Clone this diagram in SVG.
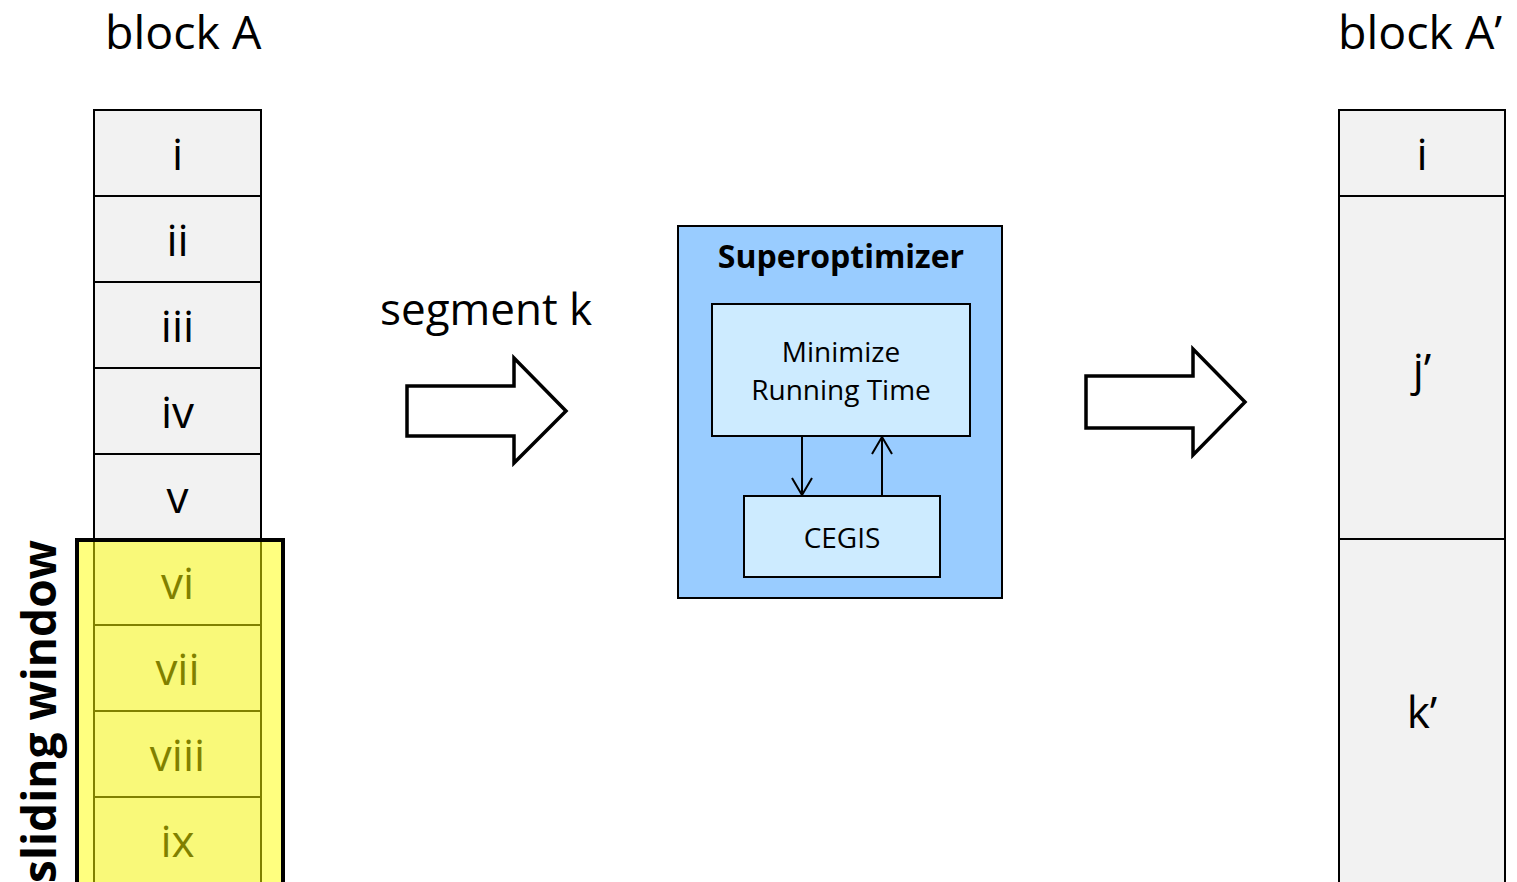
<svg xmlns="http://www.w3.org/2000/svg" width="1517" height="882" viewBox="0 0 1517 882">
  <style>
    text { font-family: "Open Sans", "Noto Sans", sans-serif; fill: #000; }
    .cell { fill: #f2f2f2; stroke: #000; stroke-width: 2; }
    .lbl { font-size: 44px; text-anchor: middle; }
    .title { font-size: 46.5px; }
    .big { fill: #ffffff; stroke: #000; stroke-width: 3.5; stroke-linejoin: miter; }
    .inner { fill: #cdebff; stroke: #000; stroke-width: 2; }
    .small { font-size: 28px; text-anchor: middle; }
    .conn { stroke: #000; stroke-width: 2; fill: none; }
  </style>
  <defs>
    <marker id="vhead" markerWidth="22" markerHeight="22" refX="18" refY="11" orient="auto" markerUnits="userSpaceOnUse">
      <path d="M1,1 L18,11 L1,21" fill="none" stroke="#000" stroke-width="2"/>
    </marker>
  </defs>

  <rect width="1517" height="882" fill="#ffffff"/>

  <!-- block A -->
  <g id="blockA">
    <text class="title" x="105" y="49">block A</text>
    <rect class="cell" x="94" y="110" width="167" height="86"/>
    <text class="lbl" x="177.5" y="170">i</text>
    <rect class="cell" x="94" y="196" width="167" height="86"/>
    <text class="lbl" x="177.5" y="256">ii</text>
    <rect class="cell" x="94" y="282" width="167" height="86"/>
    <text class="lbl" x="177.5" y="342">iii</text>
    <rect class="cell" x="94" y="368" width="167" height="86"/>
    <text class="lbl" x="177.5" y="428">iv</text>
    <rect class="cell" x="94" y="454" width="167" height="85"/>
    <text class="lbl" x="177.5" y="513">v</text>
    <rect class="cell" x="94" y="539" width="167" height="86"/>
    <text class="lbl" x="177.5" y="599">vi</text>
    <rect class="cell" x="94" y="625" width="167" height="86"/>
    <text class="lbl" x="177.5" y="685">vii</text>
    <rect class="cell" x="94" y="711" width="167" height="86"/>
    <text class="lbl" x="177.5" y="771">viii</text>
    <rect class="cell" x="94" y="797" width="167" height="90"/>
    <text class="lbl" x="177.5" y="857">ix</text>
  </g>

  <!-- sliding window overlay -->
  <g id="window">
    <rect x="77" y="540" width="206" height="350" fill="#ffff00" fill-opacity="0.5" stroke="#000" stroke-width="4"/>
    <text transform="translate(56,540) rotate(-90)" font-size="46" font-weight="bold" text-anchor="end">sliding window</text>
  </g>

  <!-- segment arrow -->
  <g id="segmentArrow">
    <text x="380" y="325" font-size="44">segment k</text>
    <path class="big" d="M407,386 L514,386 L514,358 L566,411 L514,463 L514,436 L407,436 Z"/>
  </g>

  <!-- superoptimizer -->
  <g id="superoptimizer">
    <rect x="678" y="226" width="324" height="372" fill="#99ccff" stroke="#000" stroke-width="2"/>
    <text x="841" y="268" font-size="32" font-weight="bold" text-anchor="middle">Superoptimizer</text>
  </g>
  <g id="minimize">
    <rect class="inner" x="712" y="304" width="258" height="132"/>
    <text class="small" x="841" y="362">Minimize</text>
    <text class="small" x="841" y="400">Running Time</text>
  </g>
  <g id="cegis">
    <rect class="inner" x="744" y="496" width="196" height="81"/>
    <text class="small" x="842" y="548">CEGIS</text>
  </g>

  <g id="connectors">
    <line class="conn" x1="802" y1="437" x2="802" y2="495" marker-end="url(#vhead)"/>
    <line class="conn" x1="882" y1="495" x2="882" y2="437" marker-end="url(#vhead)"/>
  </g>

  <!-- result arrow -->
  <g id="resultArrow">
    <path class="big" d="M1086,376 L1193,376 L1193,349 L1245,402 L1193,455 L1193,428 L1086,428 Z"/>
  </g>

  <!-- block A' -->
  <g id="blockA2">
    <text class="title" x="1338" y="49">block A’</text>
    <rect class="cell" x="1339" y="110" width="166" height="86"/>
    <text class="lbl" x="1422" y="170">i</text>
    <rect class="cell" x="1339" y="196" width="166" height="343"/>
    <text class="lbl" x="1422" y="385">j’</text>
    <rect class="cell" x="1339" y="539" width="166" height="350"/>
    <text class="lbl" x="1422" y="728">k’</text>
  </g>
</svg>
